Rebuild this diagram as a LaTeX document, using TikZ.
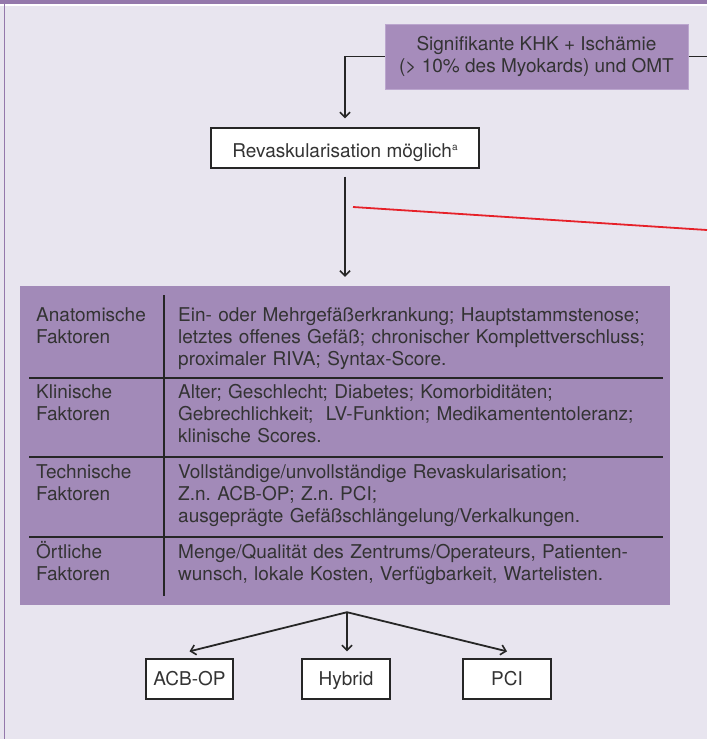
\documentclass[tikz,border=0pt]{standalone}
\usepackage{fontspec}
\setmainfont{TeX Gyre Heros}
\usetikzlibrary{arrows.meta}

\definecolor{pagebg}{HTML}{E8E5EF}
\definecolor{framepurple}{HTML}{9478AB}
\definecolor{boxpurple}{HTML}{A68CBB}
\definecolor{boxedge}{HTML}{BBA6CE}
\definecolor{tablepurple}{HTML}{A28AB8}
\definecolor{ink}{HTML}{262626}
\definecolor{txt}{HTML}{333333}
\definecolor{redline}{HTML}{E62129}

\begin{document}
\frenchspacing
\begin{tikzpicture}[x=1pt,y=-1pt,
  every node/.style={font=\fontsize{19}{22.4}\selectfont, text=txt},
  link/.style={draw=ink, line width=1.8pt},
  arrowlink/.style={link, -{Straight Barb[length=5pt,width=10pt,line width=1.6pt]}},
  whitebox/.style={draw=ink, line width=1.3pt, fill=white, inner sep=0pt},
  choicebox/.style={whitebox, minimum width=87pt, minimum height=40pt,
                    text height=13.6pt, text depth=0pt},
  cell/.style={anchor=base west, inner sep=0pt, text width=#1, align=left},
  rule/.style={draw=ink, line width=1.6pt}]

% page, top bar and left frame
\useasboundingbox (0,0) rectangle (707,739);
\fill[pagebg] (0,0) rectangle (707,739);
\fill[framepurple] (0,0) rectangle (707,4);
\fill[white] (0,4) rectangle (707,6);
\fill[framepurple] (3.8,0) rectangle (5.2,739);

% starting condition
\node[draw=boxedge, line width=1pt, fill=boxpurple, minimum width=303pt,
      minimum height=65pt, inner sep=0pt, align=center] (khk) at (536.5,56.5)
      {Signifikante KHK + Ischämie\\(> 10\% des Myokards) und OMT};
\coordinate (exitR) at (707,56.5);

% revascularisation decision
\node[whitebox, minimum width=268pt, text height=29pt, text depth=11pt] (rev) at (345,148)
      {Revaskularisation möglich\raisebox{7pt}{\fontsize{10}{10}\selectfont a}};

% table of factors
\node[fill=tablepurple, minimum width=650pt, minimum height=319pt, inner sep=0pt]
      (factors) at (345,445.5) {};
\draw[rule] (164,295) -- (164,596);
\foreach \y in {378,457,537} \draw[rule] (29,\y) -- (663,\y);

\node[cell=125pt] (anaL) at (36,321) {Anatomische\\Faktoren};
\node[cell=480pt] (anaR) at (178,321)
  {Ein- oder Mehrgefäßerkrankung; Hauptstammstenose;\\letztes offenes Gefäß; chronischer Komplettverschluss;\\proximaler RIVA; Syntax-Score.};
\node[cell=125pt] (kliL) at (36,398) {Klinische\\Faktoren};
\node[cell=480pt] (kliR) at (178,398)
  {Alter; Geschlecht; Diabetes; Komorbiditäten;\\Gebrechlichkeit;\ \ LV-Funktion; Medikamententoleranz;\\klinische Scores.};
\node[cell=125pt] (tecL) at (36,478) {Technische\\Faktoren};
\node[cell=480pt] (tecR) at (178,478)
  {Vollständige/unvollständige Revaskularisation;\\Z.n. ACB-OP; Z.n. PCI;\\ausgeprägte Gefäßschlängelung/Verkalkungen.};
\node[cell=125pt] (ortL) at (36,558) {Örtliche\\Faktoren};
\node[cell=480pt] (ortR) at (178,558)
  {Menge/Qualität des Zentrums/Operateurs, Patienten-\\wunsch, lokale Kosten, Verfügbarkeit, Wartelisten.};

% treatment options
\node[choicebox] (acb) at (189.5,679) {ACB-OP};
\node[choicebox, minimum width=88pt] (hybrid) at (346,679) {Hybrid};
\node[choicebox, minimum width=88pt] (pci) at (507,679) {PCI};

% connectors
\draw[link] (khk.east) -- (exitR);
\draw[arrowlink] (khk.west) -| ([yshift=9pt]rev.north);
\draw[arrowlink] ([yshift=-8pt]rev.south) -- ([yshift=9pt]factors.north);
\coordinate (split) at ([xshift=2pt,yshift=-7pt]factors.south);
\draw[arrowlink] (split) -- ([yshift=7pt]acb.north);
\draw[arrowlink] (split) -- ([xshift=1pt,yshift=7pt]hybrid.north);
\draw[arrowlink] (split) -- ([yshift=7pt]pci.north);

% red marker line
\coordinate (redA) at (353,207);
\coordinate (redB) at (707,230);
\draw[redline, line width=1.8pt] (redA) -- (redB);
\end{tikzpicture}
\end{document}
